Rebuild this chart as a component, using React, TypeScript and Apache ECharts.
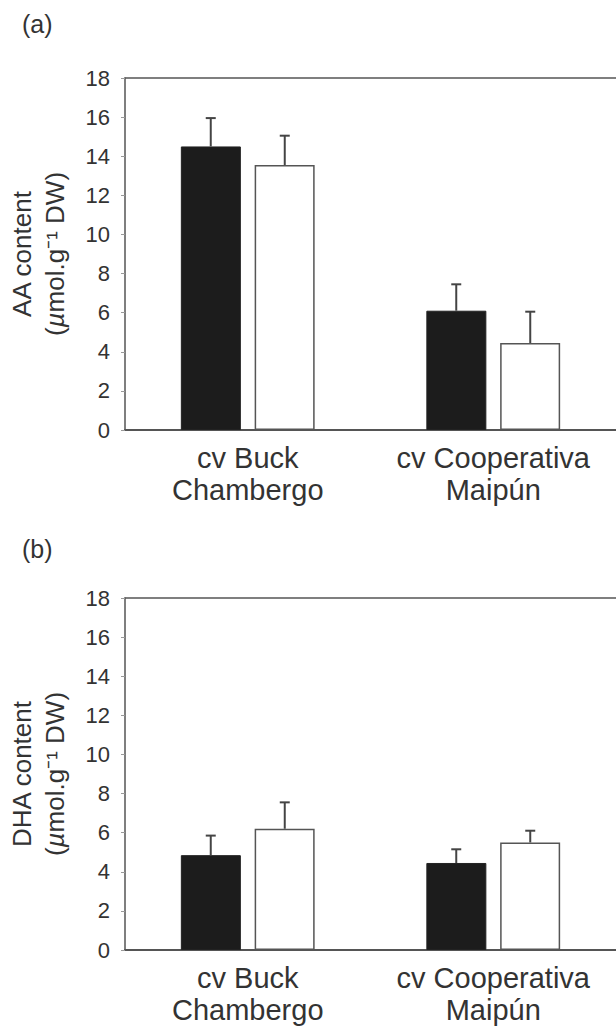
import React, { useEffect, useRef } from "react";
import * as echarts from "echarts";

const categories = ["cv Buck\nChambergo", "cv Cooperativa\nMaipún"];
const aaBlack = [14.5, 6.1];
const aaBlackErr = [1.45, 1.35];
const aaWhite = [13.55, 4.45];
const aaWhiteErr = [1.5, 1.6];
const dhaBlack = [4.85, 4.45];
const dhaBlackErr = [1.0, 0.7];
const dhaWhite = [6.2, 5.5];
const dhaWhiteErr = [1.35, 0.6];
const yTicks = { min: 0, max: 18, interval: 2 };
const panelLabels = ["(a)", "(b)"];
const yTitles = ["AA content", "DHA content"];

const FONT = "Liberation Sans, Arial, sans-serif";
const AXIS = "#555";
const TEXT = "#333";
const BAR_W = 60;
const HALF_STEP = 37;

function errorSeries(gridIdx: number, means: number[], errs: number[], side: number) {
  return {
    type: "custom",
    xAxisIndex: gridIdx * 2,
    yAxisIndex: gridIdx,
    silent: true,
    z: 5,
    data: means.map((m, i) => [i, m, errs[i]]),
    renderItem: (params: any, api: any) => {
      const c = api.value(0);
      const m = api.value(1);
      const e = api.value(2);
      const base = api.coord([c, m]);
      const top = api.coord([c, m + e]);
      const x = base[0] + side * HALF_STEP;
      return {
        type: "group",
        children: [
          {
            type: "line",
            shape: { x1: x, y1: base[1], x2: x, y2: top[1] },
            style: { stroke: "#444", lineWidth: 2 },
          },
          {
            type: "line",
            shape: { x1: x - 5, y1: top[1], x2: x + 5, y2: top[1] },
            style: { stroke: "#444", lineWidth: 2 },
          },
        ],
      };
    },
  };
}

export default function App() {
  const ref = useRef<HTMLDivElement>(null);
  useEffect(() => {
    if (!ref.current) return;
    const chart = echarts.init(ref.current, null, { renderer: "svg" });
    const grids = [
      { left: 125, top: 78, width: 495, height: 352 },
      { left: 125, top: 598, width: 495, height: 352 },
    ];
    const xAxes: any[] = [];
    grids.forEach((_, i) => {
      xAxes.push({
        type: "category",
        gridIndex: i,
        position: "bottom",
        data: categories,
        axisLine: { show: true, lineStyle: { color: AXIS, width: 2 } },
        axisTick: { show: false },
        axisLabel: {
          interval: 0,
          hideOverlap: false,
          fontFamily: FONT,
          fontSize: 29,
          lineHeight: 32,
          color: TEXT,
          margin: 12,
        },
      });
      xAxes.push({
        type: "category",
        gridIndex: i,
        position: "top",
        data: categories,
        axisLine: { show: true, onZero: false, lineStyle: { color: AXIS, width: 1.5 } },
        axisTick: { show: false },
        axisLabel: { show: false },
      });
    });
    const yAxes = grids.map((_, i) => ({
      type: "value",
      gridIndex: i,
      min: yTicks.min,
      max: yTicks.max,
      interval: yTicks.interval,
      name: "{a|" + yTitles[i] + "}\n{a|(}{i|µ}{a|mol.g⁻¹ DW)}",
      nameLocation: "middle",
      nameRotate: 90,
      nameGap: 54,
      nameTextStyle: {
        rich: {
          a: { fontFamily: FONT, fontSize: 26, color: TEXT, lineHeight: 33 },
          i: { fontFamily: FONT, fontSize: 26, color: TEXT, fontStyle: "italic", lineHeight: 33 },
        },
      },
      axisLine: { show: true, lineStyle: { color: AXIS, width: 1.5 } },
      axisTick: { show: true, length: 4, lineStyle: { color: "#999" } },
      splitLine: { show: false },
      axisLabel: { fontFamily: FONT, fontSize: 22, color: TEXT, margin: 15 },
    }));
    const barSet = [
      [aaBlack, aaWhite, aaBlackErr, aaWhiteErr],
      [dhaBlack, dhaWhite, dhaBlackErr, dhaWhiteErr],
    ];
    const series: any[] = [];
    barSet.forEach((set, gi) => {
      series.push({
        type: "bar",
        xAxisIndex: gi * 2,
        yAxisIndex: gi,
        data: set[0],
        barWidth: BAR_W,
        barGap: "23%",
        itemStyle: { color: "#1c1c1c", borderColor: "#222", borderWidth: 1 },
      });
      series.push({
        type: "bar",
        xAxisIndex: gi * 2,
        yAxisIndex: gi,
        data: set[1],
        barWidth: BAR_W,
        barGap: "23%",
        itemStyle: { color: "#fff", borderColor: "#555", borderWidth: 1.5 },
      });
      series.push(errorSeries(gi, set[0], set[2], -1));
      series.push(errorSeries(gi, set[1], set[3], 1));
    });
    chart.setOption({
      animation: false,
      backgroundColor: "#fff",
      grid: grids.map((g) => ({ ...g, show: false })),
      xAxis: xAxes,
      yAxis: yAxes,
      series,
      graphic: [
        {
          type: "text",
          left: 22,
          top: 11,
          style: { text: panelLabels[0], fontFamily: FONT, fontSize: 25, fill: TEXT },
        },
        {
          type: "text",
          left: 22,
          top: 536,
          style: { text: panelLabels[1], fontFamily: FONT, fontSize: 25, fill: TEXT },
        },
      ],
    });
    return () => chart.dispose();
  }, []);
  return (
    <div
      ref={ref}
      style={{ position: "absolute", left: 0, top: 0, width: 616, height: 1029, overflow: "hidden" }}
    />
  );
}
